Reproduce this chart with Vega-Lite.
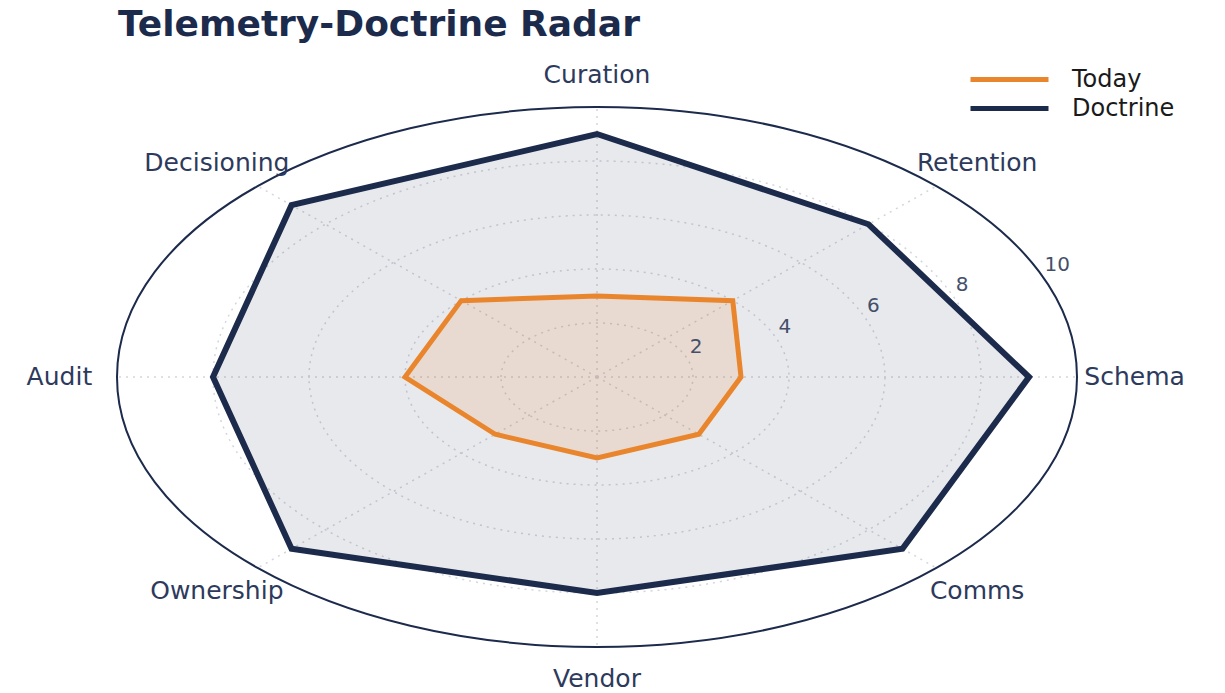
{
  "$schema": "https://vega.github.io/schema/vega-lite/v6.json",
  "width": 1225,
  "height": 693,
  "autosize": "none",
  "padding": 0,
  "background": "white",
  "config": {"view": {"stroke": null}, "font": "DejaVu Sans"},
  "title": {
    "text": "Telemetry-Doctrine Radar",
    "orient": "top",
    "anchor": "start",
    "offset": -6,
    "dy": 38,
    "dx": 118,
    "font": "DejaVu Sans",
    "fontSize": 36,
    "fontWeight": "bold",
    "color": "#1c2a4c"
  },
  "datasets": {
    "axes": [
      {"axis": "Schema", "i": 0, "Today": 3, "Doctrine": 9},
      {"axis": "Retention", "i": 1, "Today": 4, "Doctrine": 8},
      {"axis": "Curation", "i": 2, "Today": 3, "Doctrine": 9},
      {"axis": "Decisioning", "i": 3, "Today": 4, "Doctrine": 9},
      {"axis": "Audit", "i": 4, "Today": 4, "Doctrine": 8},
      {"axis": "Ownership", "i": 5, "Today": 3, "Doctrine": 9},
      {"axis": "Vendor", "i": 6, "Today": 3, "Doctrine": 8},
      {"axis": "Comms", "i": 7, "Today": 3, "Doctrine": 9}
    ],
    "rings": [{"r": 2}, {"r": 4}, {"r": 6}, {"r": 8}, {"r": 10}]
  },
  "layer": [
    {
      "data": {"name": "rings"},
      "transform": [{"filter": "datum.r < 10"}, {"calculate": "0", "as": "o"}],
      "mark": {"type": "point", "shape": "M-1,0A1,0.5625,0,1,1,1,0A1,0.5625,0,1,1,-1,0Z", "filled": false, "stroke": "#d3d6dc", "strokeWidth": 1.5, "strokeDash": [2, 5], "opacity": 1},
      "encoding": {
        "x": {"field": "o", "type": "quantitative", "scale": {"domain": [-12.4375, 13.0833], "nice": false, "zero": false}, "axis": null},
        "y": {"field": "o", "type": "quantitative", "scale": {"domain": [-11.7037, 13.963], "nice": false, "zero": false}, "axis": null},
        "size": {"field": "r", "type": "quantitative", "scale": {"type": "pow", "exponent": 2, "domain": [0, 10], "range": [0, 921600]}, "legend": null}
      }
    },
    {
      "data": {"name": "axes"},
      "transform": [
        {"calculate": "0", "as": "o"},
        {"calculate": "datum.i * PI / 4", "as": "a"},
        {"calculate": "10 * cos(datum.a)", "as": "ex"},
        {"calculate": "10 * sin(datum.a)", "as": "ey"}
      ],
      "mark": {"type": "rule", "stroke": "#d3d6dc", "strokeWidth": 1.5, "strokeDash": [2, 5]},
      "encoding": {
        "x": {"field": "o", "type": "quantitative"},
        "y": {"field": "o", "type": "quantitative"},
        "x2": {"field": "ex"},
        "y2": {"field": "ey"}
      }
    },
    {
      "data": {"name": "rings"},
      "transform": [{"filter": "datum.r == 10"}, {"calculate": "0", "as": "o"}],
      "mark": {"type": "point", "shape": "M-1,0A1,0.5625,0,1,1,1,0A1,0.5625,0,1,1,-1,0Z", "filled": false, "stroke": "#1c2a4c", "strokeWidth": 2, "opacity": 1},
      "encoding": {
        "x": {"field": "o", "type": "quantitative"},
        "y": {"field": "o", "type": "quantitative"},
        "size": {"field": "r", "type": "quantitative", "legend": null}
      }
    },
    {
      "data": {"name": "axes"},
      "transform": [
        {"fold": ["Doctrine"], "as": ["series", "value"]},
        {"calculate": "datum.i * PI / 4", "as": "a"},
        {"calculate": "datum.value * cos(datum.a)", "as": "px"},
        {"calculate": "datum.value * sin(datum.a)", "as": "py"}
      ],
      "mark": {"type": "line", "interpolate": "linear-closed", "fill": "#1c2a4c", "fillOpacity": 0.1, "strokeWidth": 6, "strokeJoin": "miter"},
      "encoding": {
        "x": {"field": "px", "type": "quantitative"},
        "y": {"field": "py", "type": "quantitative"},
        "order": {"field": "i", "type": "quantitative"},
        "color": {
          "field": "series",
          "type": "nominal",
          "scale": {"domain": ["Today", "Doctrine"], "range": ["#e9862d", "#1c2a4c"]},
          "legend": {
            "orient": "none",
            "legendX": 997,
            "legendY": 67,
            "title": null,
            "symbolType": "M-3.9,0H3.9",
            "symbolSize": 400,
            "symbolStrokeWidth": 5,
            "labelFontSize": 24,
            "labelFont": "DejaVu Sans",
            "labelColor": "#1a1a1a",
            "labelOffset": 50,
            "rowPadding": 4
          }
        }
      }
    },
    {
      "data": {"name": "axes"},
      "transform": [
        {"fold": ["Today"], "as": ["series", "value"]},
        {"calculate": "datum.i * PI / 4", "as": "a"},
        {"calculate": "datum.value * cos(datum.a)", "as": "px"},
        {"calculate": "datum.value * sin(datum.a)", "as": "py"}
      ],
      "mark": {"type": "line", "interpolate": "linear-closed", "fill": "#e9862d", "fillOpacity": 0.15, "strokeWidth": 5, "strokeJoin": "miter"},
      "encoding": {
        "x": {"field": "px", "type": "quantitative"},
        "y": {"field": "py", "type": "quantitative"},
        "order": {"field": "i", "type": "quantitative"},
        "color": {"field": "series", "type": "nominal"}
      }
    },
    {
      "data": {"name": "axes"},
      "transform": [
        {"calculate": "datum.i * PI / 4", "as": "a"},
        {"calculate": "11.2 * cos(datum.a)", "as": "lx"},
        {"calculate": "11.2 * sin(datum.a)", "as": "ly"}
      ],
      "mark": {"type": "text", "align": "center", "baseline": "middle", "fontSize": 25, "font": "DejaVu Sans", "color": "#2d3a5c"},
      "encoding": {
        "x": {"field": "lx", "type": "quantitative"},
        "y": {"field": "ly", "type": "quantitative"},
        "text": {"field": "axis", "type": "nominal"}
      }
    },
    {
      "data": {"name": "rings"},
      "transform": [
        {"calculate": "datum.r * cos(PI / 8)", "as": "tx"},
        {"calculate": "datum.r * sin(PI / 8)", "as": "ty"}
      ],
      "mark": {"type": "text", "align": "left", "baseline": "middle", "dx": 4, "dy": -9, "fontSize": 20, "font": "DejaVu Sans", "color": "#44506a"},
      "encoding": {
        "x": {"field": "tx", "type": "quantitative"},
        "y": {"field": "ty", "type": "quantitative"},
        "text": {"field": "r", "type": "quantitative"}
      }
    }
  ]
}
